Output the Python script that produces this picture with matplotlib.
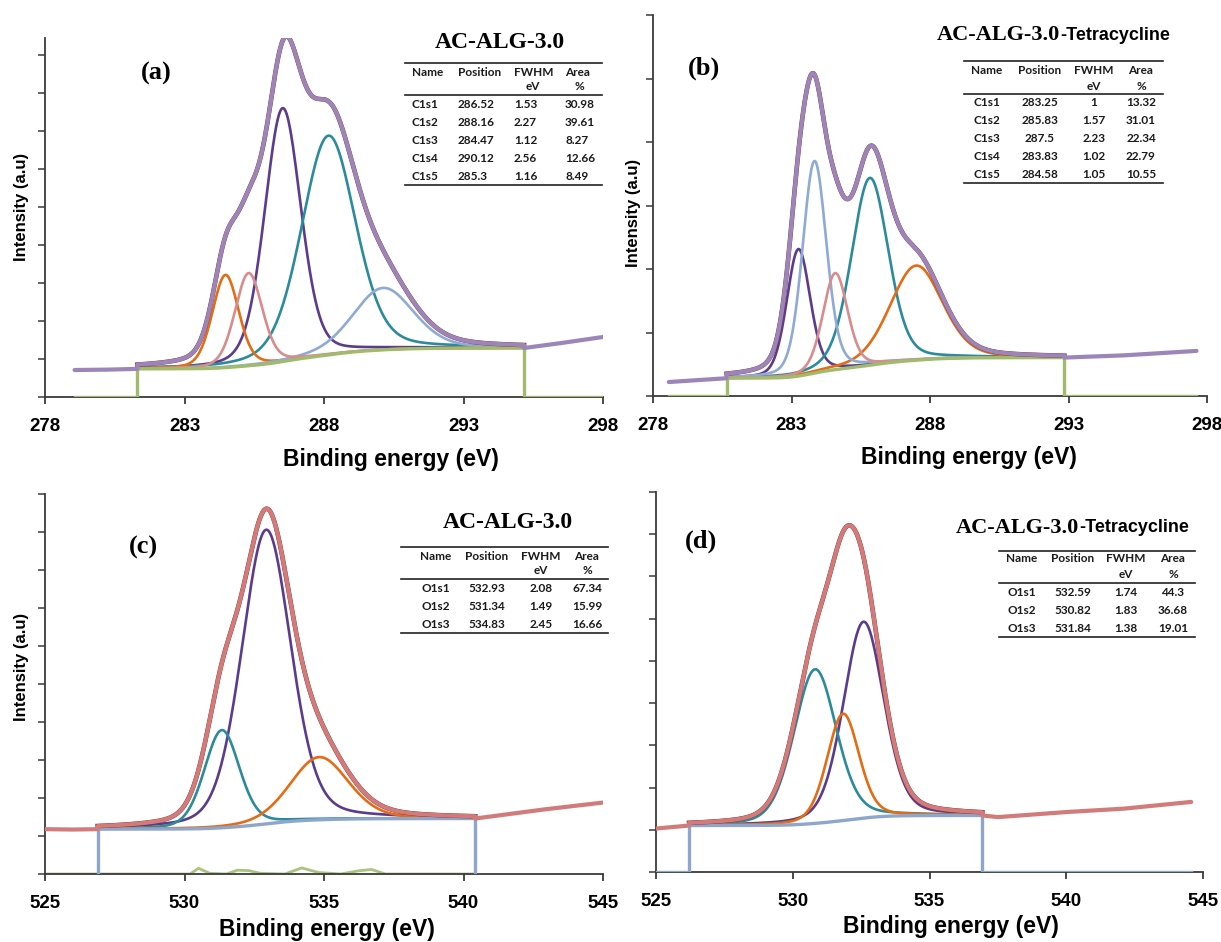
import numpy as np
import matplotlib
matplotlib.use('Agg')
import matplotlib.pyplot as plt
from matplotlib.lines import Line2D

# data
#
# (a) C 1s, AC-ALG-3.0
a_names = ['C1s1', 'C1s2', 'C1s3', 'C1s4', 'C1s5']
a_pos = [286.52, 288.16, 284.47, 290.12, 285.3]
a_fwhm = [1.53, 2.27, 1.12, 2.56, 1.16]
a_area = [30.98, 39.61, 8.27, 12.66, 8.49]
a_height = [6.67, 5.77, 2.44, 1.63, 2.44]
a_bg_x = [281.31, 295.17]
a_bg_y = [0.74, 1.29]
a_zero_x = [279.06, 298.0]
a_left_x, a_left_y = [279.06, 280.2, 281.31], [0.71, 0.72, 0.74]
a_right_x, a_right_y = [295.17, 296.5, 298.0], [1.29, 1.42, 1.58]

# (b) C 1s, AC-ALG-3.0-Tetracycline
b_names = ['C1s1', 'C1s2', 'C1s3', 'C1s4', 'C1s5']
b_pos = [283.25, 285.83, 287.5, 283.83, 284.58]
b_fwhm = [1, 1.57, 2.23, 1.02, 1.05]
b_area = [13.32, 31.01, 22.34, 22.79, 10.55]
b_height = [2.0, 2.95, 1.49, 3.34, 1.52]
b_bg_x = [280.66, 292.85]
b_bg_y = [0.28, 0.605]
b_zero_x = [278.57, 297.62]
b_left_x, b_left_y = [278.57, 280.66], [0.22, 0.28]
b_right_x, b_right_y = [292.85, 295.0, 297.62], [0.605, 0.64, 0.71]

# (c) O 1s, AC-ALG-3.0
c_names = ['O1s1', 'O1s2', 'O1s3']
c_pos = [532.93, 531.34, 534.83]
c_fwhm = [2.08, 1.49, 2.45]
c_area = [67.34, 15.99, 16.66]
c_height = [7.74, 2.57, 1.65]
c_bg_x = [526.89, 540.42]
c_bg_y = [1.18, 1.46]
c_zero_x = [526.89, 540.42]
c_left_x, c_left_y = [525.0, 526.0, 526.89], [1.18, 1.17, 1.18]
c_right_x, c_right_y = [540.42, 542.9, 545.0], [1.46, 1.70, 1.88]
c_resid_x = [525.0, 530.2, 530.5, 530.9, 531.5, 531.9, 532.3, 532.7, 533.6,
             534.2, 534.8, 535.6, 536.2, 536.7, 537.2, 540.4]
c_resid_y = [0.0, 0.0, 0.15, 0.02, 0.0, 0.1, 0.09, 0.02, 0.0,
             0.16, 0.04, 0.0, 0.08, 0.12, 0.0, 0.0]

# (d) O 1s, AC-ALG-3.0-Tetracycline
d_names = ['O1s1', 'O1s2', 'O1s3']
d_pos = [532.59, 530.82, 531.84]
d_fwhm = [1.74, 1.83, 1.38]
d_area = [44.3, 36.68, 19.01]
d_height = [4.65, 3.65, 2.53]
d_bg_x = [526.21, 536.93]
d_bg_y = [1.10, 1.34]
d_zero_x = [525.0, 544.57]
d_left_x, d_left_y = [525.0, 526.21], [1.03, 1.10]
d_right_x, d_right_y = [536.93, 537.5, 540.0, 542.1, 544.57], [1.34, 1.30, 1.42, 1.50, 1.66]

# colours
#
DPURPLE, TEAL, ORANGE = '#5b3c8c', '#2b8b9d', '#e36c14'
LBLUE, SALMON = '#8eaad6', '#d98c8c'
GREEN, BGBLUE, RESID = '#9fbb6b', '#8ea5cc', '#a9c47f'

a_colors = [DPURPLE, TEAL, ORANGE, LBLUE, SALMON]
b_colors = [DPURPLE, TEAL, ORANGE, LBLUE, SALMON]
c_colors = [DPURPLE, TEAL, ORANGE]
d_colors = [DPURPLE, TEAL, ORANGE]

W, H = 1221, 942
fig = plt.figure(figsize=(W / 100, H / 100), dpi=100)


def fx(x):
    return x / W


def fy(y):
    return 1 - y / H


def add_axes_px(l, t, r, b):
    return fig.add_axes([fx(l), fy(b), (r - l) / W, (b - t) / H])


def peak(x, c, w, h, eta=0.25):
    u = (x - c) / w
    return h * ((1 - eta) * np.exp(-4 * np.log(2) * u ** 2) + eta / (1 + 4 * u ** 2))


def draw_panel(ax, pos, fwhm, height, colors, bg_x, bg_y, zero_x,
               left_x, left_y, right_x, right_y, env_col, raw_col, bg_col):
    x = np.linspace(bg_x[0], bg_x[1], 800)
    comps = [peak(x, c, w, h) for c, w, h in zip(pos, fwhm, height)]
    total = np.sum(comps, axis=0)
    cum = np.concatenate([[0], np.cumsum((total[1:] + total[:-1]) / 2 * np.diff(x))])
    bg = bg_y[0] + (bg_y[1] - bg_y[0]) * cum / cum[-1]

    for comp, col in zip(comps, colors):
        ax.plot(x, bg + comp, color=col, lw=1.9, zorder=3)

    # background + zero steps
    ax.plot(x, bg, color=bg_col, lw=2.4, zorder=4)
    ax.plot([zero_x[0], bg_x[0], bg_x[0]], [0, 0, bg_y[0]], color=bg_col, lw=2.4, zorder=4)
    ax.plot([bg_x[1], bg_x[1], zero_x[1]], [bg_y[1], 0, 0], color=bg_col, lw=2.4, zorder=4)

    # measured spectrum and envelope
    env = bg + total
    ax.plot(x, env, color=raw_col, lw=3.3, zorder=5)
    sx = np.concatenate([left_x, x, right_x])
    sy = np.concatenate([left_y, env, right_y])
    ax.plot(sx, sy, color=env_col, lw=3.0, zorder=6, solid_capstyle='round')


def style_axes(ax, xmin, ymax, nticks, xlab_xy, ylab_xy=None):
    ax.set_xlim(xmin, xmin + 20)
    ax.set_ylim(0, ymax)
    ax.set_xticks(np.arange(xmin, xmin + 21, 5))
    ax.set_yticks(np.arange(0, nticks + 1))
    ax.set_yticklabels([])
    for s in ['top', 'right']:
        ax.spines[s].set_visible(False)
    for s in ['left', 'bottom']:
        ax.spines[s].set_color('#3a3a3a')
        ax.spines[s].set_linewidth(1.3)
    ax.tick_params(axis='x', direction='out', length=5, width=1.3, color='#3a3a3a', pad=10)
    ax.tick_params(axis='y', direction='out', length=5, width=1.1, color='#3a3a3a')
    for lab in ax.get_xticklabels():
        lab.set_fontsize(13.5)
        lab.set_fontweight('bold')
        lab.set_family('Liberation Sans')
    ax.set_xlabel('Binding energy (eV)', fontsize=16.5, fontweight='bold', family='Liberation Sans')
    ax.xaxis.set_label_coords(*xlab_xy)
    if ylab_xy is not None:
        ax.set_ylabel('Intensity (a.u)', fontsize=12, fontweight='bold', family='Liberation Sans')
        ax.yaxis.set_label_coords(*ylab_xy)


def hline(x0, x1, y):
    fig.add_artist(Line2D([fx(x0), fx(x1)], [fy(y), fy(y)], transform=fig.transFigure,
                          color='#222222', lw=1.2))


def draw_table(names, pos, fwhm, area, title_xy, split, col_x, units_x, y_head, y_unit,
               y_rows, y_lines, x_line, ha):
    tx, ty = title_xy
    if split:
        fig.text(fx(tx), fy(ty), 'AC-ALG-3.0', ha='right', va='center', fontsize=16,
                 fontweight='bold', family='Liberation Serif')
        fig.text(fx(tx), fy(ty), '-Tetracycline', ha='left', va='center', fontsize=13,
                 fontweight='bold', family='Liberation Sans')
    else:
        fig.text(fx(tx), fy(ty), 'AC-ALG-3.0', ha='center', va='center', fontsize=17,
                 fontweight='bold', family='Liberation Serif')
    kw = dict(va='center', fontsize=8.5, fontweight='bold', family='Lato', color='#1a1a1a')
    for lab, cx in zip(['Name', 'Position', 'FWHM', 'Area'], col_x):
        fig.text(fx(cx), fy(y_head), lab, ha=ha, **kw)
    for lab, cx in zip(['eV', '%'], units_x):
        fig.text(fx(cx), fy(y_unit), lab, ha='center', **kw)
    for i, yr in enumerate(y_rows):
        vals = [names[i], f'{pos[i]:g}', f'{fwhm[i]:g}', f'{area[i]:g}']
        for v, cx in zip(vals, col_x):
            fig.text(fx(cx), fy(yr), v, ha=ha, **kw)
    for yl in y_lines:
        hline(x_line[0], x_line[1], yl)


# (a)
ax_a = add_axes_px(45, 38, 603, 397)
draw_panel(ax_a, a_pos, a_fwhm, a_height, a_colors, a_bg_x, a_bg_y, a_zero_x,
           a_left_x, a_left_y, a_right_x, a_right_y, '#9c86b9', '#8b2a2a', GREEN)
style_axes(ax_a, 278, 9.45, 9, (0.62, -0.142), (-0.029, 0.53))
ax_a.text(0.2, 0.9, '(a)', transform=ax_a.transAxes, ha='center', va='center',
          fontsize=19, fontweight='bold', family='Liberation Serif')
draw_table(a_names, a_pos, a_fwhm, a_area, (500, 42), False, [412, 458, 514, 565],
           [533, 579], 72, 87, [104, 122, 140, 158, 176], [63, 95, 185], (405, 602), 'left')

# (b)
ax_b = add_axes_px(653, 15, 1207, 396)
draw_panel(ax_b, b_pos, b_fwhm, b_height, b_colors, b_bg_x, b_bg_y, b_zero_x,
           b_left_x, b_left_y, b_right_x, b_right_y, '#9c86b9', '#8b2a2a', GREEN)
style_axes(ax_b, 278, 6, 6, (0.57, -0.131), (-0.022, 0.48))
ax_b.text(0.092, 0.86, '(b)', transform=ax_b.transAxes, ha='center', va='center',
          fontsize=19, fontweight='bold', family='Liberation Serif')
draw_table(b_names, b_pos, b_fwhm, b_area, (1060, 35), True, [987, 1040, 1094, 1141],
           [1094, 1141], 70, 86, [102, 121, 138, 157, 174], [61, 94, 183], (964, 1163), 'center')

# (c)
ax_c = add_axes_px(45, 494, 603, 874)
ax_c.plot(c_resid_x, c_resid_y, color=RESID, lw=2.0, zorder=2)
draw_panel(ax_c, c_pos, c_fwhm, c_height, c_colors, c_bg_x, c_bg_y, c_zero_x,
           c_left_x, c_left_y, c_right_x, c_right_y, '#d17b7b', '#8b2020', BGBLUE)
style_axes(ax_c, 525, 10, 10, (0.505, -0.116), (-0.029, 0.545))
ax_c.text(0.176, 0.86, '(c)', transform=ax_c.transAxes, ha='center', va='center',
          fontsize=19, fontweight='bold', family='Liberation Serif')
draw_table(c_names, c_pos, c_fwhm, c_area, (508, 522), False, [436, 487, 541, 587],
           [541, 587], 556, 571, [589, 607, 625], [547, 579, 633], (401, 608), 'center')

# (d)
ax_d = add_axes_px(656, 492, 1203, 872)
draw_panel(ax_d, d_pos, d_fwhm, d_height, d_colors, d_bg_x, d_bg_y, d_zero_x,
           d_left_x, d_left_y, d_right_x, d_right_y, '#d17b7b', '#8b2020', BGBLUE)
style_axes(ax_d, 525, 9, 9, (0.54, -0.113))
ax_d.text(0.082, 0.87, '(d)', transform=ax_d.transAxes, ha='center', va='center',
          fontsize=19, fontweight='bold', family='Liberation Serif')
draw_table(d_names, d_pos, d_fwhm, d_area, (1079, 528), True, [1022, 1073, 1126, 1173],
           [1126, 1173], 559, 575, [593, 611, 628], [551, 583, 637], (999, 1195), 'center')

fig.savefig('out.png', dpi=100)
